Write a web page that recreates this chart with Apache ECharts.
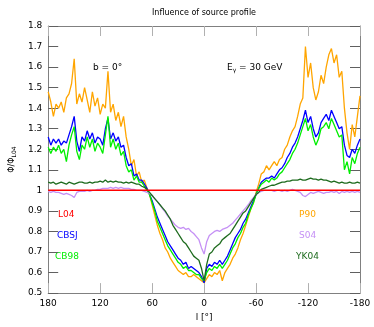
<!DOCTYPE html>
<html>
<head>
<meta charset="utf-8">
<script src="https://cdn.jsdelivr.net/npm/echarts@6/dist/echarts.min.js"></script>
<style>
  html, body { margin: 0; padding: 0; background: #fff; }
  #chart { width: 374px; height: 327px; }
</style>
</head>
<body>
<div id="chart"></div>
<script>
// galactic longitude grid, 180 -> -180 in 3 degree steps
const lon = [180, 177, 174, 171, 168, 165, 162, 159, 156, 153, 150, 147, 144, 141, 138, 135, 132, 129, 126, 123,
  120, 117, 114, 111, 108, 105, 102, 99, 96, 93, 90, 87, 84, 81, 78, 75, 72, 69, 66, 63,
  60, 57, 54, 51, 48, 45, 42, 39, 36, 33, 30, 27, 24, 21, 18, 15, 12, 9, 6, 3,
  0, -3, -6, -9, -12, -15, -18, -21, -24, -27, -30, -33, -36, -39, -42, -45, -48, -51, -54, -57,
  -60, -63, -66, -69, -72, -75, -78, -81, -84, -87, -90, -93, -96, -99, -102, -105, -108, -111, -114, -117,
  -120, -123, -126, -129, -132, -135, -138, -141, -144, -147, -150, -153, -156, -159, -162, -165, -168, -171, -174, -177,
  -180]

const yL04 = lon.map(() => 1)

const yP90 = [1.48, 1.43, 1.36, 1.42, 1.40, 1.43, 1.38, 1.45, 1.47, 1.52, 1.64, 1.42, 1.47, 1.43, 1.50, 1.44, 1.38, 1.48, 1.41, 1.45,
  1.37, 1.42, 1.40, 1.58, 1.38, 1.42, 1.34, 1.38, 1.31, 1.36, 1.26, 1.20, 1.12, 1.15, 1.07, 1.09, 1.04, 1.05, 1.01, 0.98,
  0.93, 0.88, 0.83, 0.79, 0.76, 0.72, 0.70, 0.67, 0.65, 0.63, 0.61, 0.60, 0.59, 0.60, 0.58, 0.58, 0.59, 0.58, 0.57, 0.56,
  0.55, 0.57, 0.59, 0.58, 0.60, 0.59, 0.61, 0.56, 0.60, 0.62, 0.64, 0.67, 0.69, 0.72, 0.76, 0.79, 0.83, 0.87, 0.91, 0.94,
  0.99, 1.03, 1.08, 1.09, 1.12, 1.10, 1.12, 1.14, 1.12, 1.15, 1.16, 1.20, 1.22, 1.26, 1.29, 1.31, 1.36, 1.42, 1.45, 1.70,
  1.55, 1.62, 1.50, 1.44, 1.48, 1.56, 1.52, 1.60, 1.66, 1.69, 1.62, 1.66, 1.55, 1.58, 1.40, 1.28, 1.20, 1.32, 1.26, 1.36,
  1.46]

const yCBSJ = [1.26, 1.22, 1.25, 1.23, 1.25, 1.22, 1.24, 1.23, 1.27, 1.31, 1.36, 1.24, 1.19, 1.26, 1.24, 1.29, 1.25, 1.28, 1.23, 1.26,
  1.25, 1.22, 1.30, 1.35, 1.25, 1.28, 1.24, 1.26, 1.21, 1.22, 1.16, 1.12, 1.13, 1.07, 1.08, 1.05, 1.05, 1.03, 1.01, 0.98,
  0.95, 0.91, 0.87, 0.84, 0.81, 0.78, 0.75, 0.73, 0.71, 0.69, 0.67, 0.66, 0.64, 0.65, 0.62, 0.63, 0.62, 0.61, 0.60, 0.58,
  0.55, 0.62, 0.64, 0.63, 0.65, 0.64, 0.66, 0.64, 0.66, 0.68, 0.71, 0.74, 0.77, 0.79, 0.81, 0.84, 0.86, 0.89, 0.92, 0.95,
  0.98, 1.01, 1.04, 1.05, 1.06, 1.06, 1.07, 1.06, 1.08, 1.10, 1.11, 1.13, 1.16, 1.18, 1.21, 1.23, 1.26, 1.30, 1.34, 1.39,
  1.33, 1.36, 1.30, 1.26, 1.28, 1.33, 1.35, 1.37, 1.34, 1.39, 1.36, 1.33, 1.30, 1.31, 1.22, 1.17, 1.16, 1.20, 1.18, 1.22,
  1.25]

const yCB98 = [1.21, 1.18, 1.21, 1.19, 1.22, 1.18, 1.20, 1.14, 1.22, 1.27, 1.31, 1.19, 1.15, 1.22, 1.20, 1.26, 1.21, 1.25, 1.19, 1.23,
  1.21, 1.18, 1.27, 1.36, 1.21, 1.25, 1.20, 1.23, 1.17, 1.19, 1.12, 1.09, 1.10, 1.05, 1.07, 1.04, 1.04, 1.02, 1.00, 0.98,
  0.94, 0.90, 0.85, 0.82, 0.79, 0.76, 0.73, 0.71, 0.69, 0.67, 0.65, 0.64, 0.62, 0.63, 0.61, 0.61, 0.60, 0.59, 0.59, 0.57,
  0.56, 0.60, 0.62, 0.61, 0.63, 0.62, 0.64, 0.62, 0.64, 0.66, 0.69, 0.72, 0.74, 0.77, 0.79, 0.82, 0.84, 0.88, 0.91, 0.94,
  0.98, 1.01, 1.03, 1.04, 1.05, 1.04, 1.06, 1.05, 1.06, 1.08, 1.09, 1.11, 1.13, 1.15, 1.18, 1.20, 1.23, 1.27, 1.31, 1.35,
  1.29, 1.32, 1.26, 1.22, 1.25, 1.30, 1.31, 1.33, 1.30, 1.35, 1.32, 1.29, 1.26, 1.27, 1.10, 1.14, 1.08, 1.16, 1.13, 1.18,
  1.21]

const yS04 = [0.995, 0.99, 0.995, 0.99, 0.99, 0.985, 0.98, 0.985, 0.98, 0.975, 0.965, 0.99, 0.995, 0.995, 0.995, 1.0, 0.995, 1.0, 1.0, 1.005,
  1.005, 1.01, 1.01, 1.01, 1.015, 1.01, 1.015, 1.01, 1.015, 1.01, 1.01, 1.01, 1.005, 1.005, 1.0, 1.0, 1.0, 0.995, 0.99, 0.985,
  0.975, 0.96, 0.945, 0.93, 0.91, 0.895, 0.875, 0.86, 0.845, 0.83, 0.82, 0.815, 0.82, 0.81, 0.815, 0.80, 0.79, 0.775, 0.76, 0.72,
  0.69, 0.75, 0.78, 0.79, 0.80, 0.805, 0.80, 0.81, 0.815, 0.82, 0.83, 0.84, 0.855, 0.87, 0.885, 0.90, 0.915, 0.93, 0.95, 0.965,
  0.98, 0.99, 0.995, 1.0, 1.0, 1.0, 1.0, 0.995, 1.0, 1.0, 0.995, 1.0, 0.995, 1.0, 1.005, 1.0, 0.995, 0.99, 0.975, 0.97,
  0.98, 0.99, 0.985, 0.99, 0.995, 0.99, 0.985, 0.99, 0.99, 0.995, 0.99, 0.995, 0.985, 0.995, 0.99, 0.995, 0.99, 0.995, 0.99, 0.995,
  0.99]

const yYK04 = [1.04, 1.035, 1.04, 1.03, 1.035, 1.04, 1.035, 1.03, 1.04, 1.035, 1.03, 1.035, 1.04, 1.04, 1.035, 1.035, 1.04, 1.035, 1.04, 1.04,
  1.045, 1.04, 1.05, 1.04, 1.045, 1.04, 1.045, 1.04, 1.04, 1.035, 1.04, 1.035, 1.04, 1.035, 1.03, 1.03, 1.02, 1.015, 1.005, 0.99,
  0.975, 0.96, 0.945, 0.93, 0.915, 0.90, 0.88, 0.86, 0.83, 0.81, 0.79, 0.77, 0.75, 0.74, 0.72, 0.70, 0.68, 0.67, 0.66, 0.62,
  0.56, 0.64, 0.69, 0.70, 0.72, 0.73, 0.74, 0.76, 0.77, 0.78, 0.79, 0.81, 0.83, 0.85, 0.87, 0.89, 0.90, 0.92, 0.94, 0.96,
  0.98, 0.99, 1.005, 1.01, 1.015, 1.02, 1.025, 1.025, 1.03, 1.035, 1.04, 1.04, 1.045, 1.045, 1.05, 1.05, 1.05, 1.055, 1.05, 1.05,
  1.055, 1.06, 1.055, 1.055, 1.05, 1.055, 1.05, 1.05, 1.045, 1.04, 1.045, 1.04, 1.035, 1.04, 1.035, 1.035, 1.04, 1.035, 1.035, 1.04,
  1.035]

const pairs = (ys) => lon.map((l, i) => [l, ys[i]])

const font = 'DejaVu Sans'
const chart = echarts.init(document.getElementById('chart'), null, { renderer: 'canvas' })

const lineSeries = (name, ys, color, width) => ({
  name: name,
  type: 'line',
  data: pairs(ys),
  showSymbol: false,
  symbol: 'none',
  animation: false,
  lineStyle: { color: color, width: width || 1.3 },
  itemStyle: { color: color }
})

const labelText = (x, y, text, color) => ({
  type: 'text',
  left: x,
  top: y,
  style: { text: text, fill: color, font: '9px "DejaVu Sans"' }
})

chart.setOption({
  backgroundColor: '#fff',
  animation: false,
  grid: { left: 40, right: 14, top: 26, bottom: 29 },
  xAxis: [
    {
      type: 'value', min: -180, max: 180, interval: 60, inverse: true,
      name: 'l [°]', nameLocation: 'middle', nameGap: 19,
      nameTextStyle: { fontFamily: font, fontSize: 9, color: '#000' },
      axisLine: { onZero: false, lineStyle: { color: '#808080' } },
      axisTick: { inside: true, length: 10, lineStyle: { color: '#b0b0b0' } },
      axisLabel: { fontFamily: font, fontSize: 9, color: '#000', margin: 6 },
      splitLine: { show: false }
    },
    {
      type: 'value', min: -180, max: 180, interval: 60, inverse: true, position: 'top',
      axisLine: { onZero: false, lineStyle: { color: '#808080' } },
      axisTick: { inside: true, length: 10, lineStyle: { color: '#b0b0b0' } },
      axisLabel: { show: false },
      splitLine: { show: false }
    }
  ],
  yAxis: [
    {
      type: 'value', min: 0.5, max: 1.8, interval: 0.1,
      name: '{a|Φ/Φ}{s|L04}', nameLocation: 'middle', nameGap: 27, nameRotate: 90,
      nameTextStyle: {
        rich: {
          a: { fontFamily: font, fontSize: 8, color: '#000' },
          s: { fontFamily: font, fontSize: 6, color: '#000', padding: [4, 0, 0, 0] }
        }
      },
      axisLine: { onZero: false, lineStyle: { color: '#808080' } },
      axisTick: { inside: true, length: 10, lineStyle: { color: '#606060' } },
      axisLabel: {
        fontFamily: font, fontSize: 9, color: '#000', margin: 6,
        formatter: (v) => (Math.abs(v - 1) < 1e-6 ? '1' : v.toFixed(1))
      },
      splitLine: { show: false }
    },
    {
      type: 'value', min: 0.5, max: 1.8, interval: 0.1, position: 'right',
      axisLine: { show: true, onZero: false, lineStyle: { color: '#808080' } },
      axisTick: { show: true, inside: true, length: 10, lineStyle: { color: '#606060' } },
      axisLabel: { show: false },
      splitLine: { show: false }
    }
  ],
  series: [
    lineSeries('P90', yP90, '#ffa500'),
    lineSeries('CBSJ', yCBSJ, '#0000ff'),
    lineSeries('CB98', yCB98, '#00ee00'),
    lineSeries('S04', yS04, '#c590f5'),
    lineSeries('YK04', yYK04, '#1e6b1e'),
    lineSeries('L04', yL04, '#ff0000', 1.5)
  ],
  graphic: [
    {
      type: 'text', left: 152, top: 9,
      style: { text: 'Influence of source profile', fill: '#000', font: '8px "DejaVu Sans"' }
    },
    labelText(93, 63, 'b = 0°', '#000'),
    {
      type: 'text', left: 227, top: 63,
      style: {
        text: '{a|E}{s|γ}{a| = 30 GeV}',
        rich: {
          a: { fontFamily: font, fontSize: 9, fill: '#000' },
          s: { fontFamily: font, fontSize: 6, fill: '#000', padding: [5, 0, 0, 0] }
        }
      }
    },
    labelText(58, 210, 'L04', '#ff0000'),
    labelText(57, 231, 'CBSJ', '#0000ff'),
    labelText(55, 252, 'CB98', '#00ee00'),
    labelText(299, 210, 'P90', '#ffa500'),
    labelText(299, 231, 'S04', '#c590f5'),
    labelText(296, 252, 'YK04', '#1e6b1e')
  ]
})
</script>
</body>
</html>
